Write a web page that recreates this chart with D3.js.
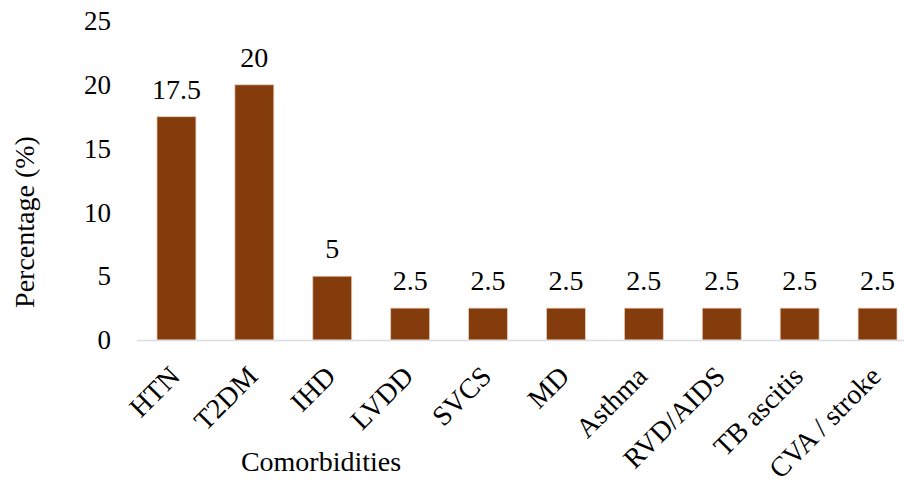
<!DOCTYPE html>
<html>
<head>
<meta charset="utf-8">
<script src="https://cdn.jsdelivr.net/npm/d3@7"></script>
<style>
  html, body { margin: 0; padding: 0; background: #fff; }
  svg { display: block; }
  text { font-family: "Liberation Serif", "Times New Roman", serif; fill: #000; }
</style>
</head>
<body>
<svg id="chart" width="904" height="485"></svg>
<script>
// Comorbidity frequencies (%)
const categories = ["HTN", "T2DM", "IHD", "LVDD", "SVCS", "MD", "Asthma", "RVD/AIDS", "TB ascitis", "CVA / stroke"];
const values = [17.5, 20, 5, 2.5, 2.5, 2.5, 2.5, 2.5, 2.5, 2.5];
const yTicks = [0, 5, 10, 15, 20, 25];

const FONT = "Liberation Serif, Times New Roman, serif";
const svg = d3.select("#chart");
const barColor = "#843C0C";

const x = d3.scaleBand()
  .domain(categories)
  .range([137.5, 916.5])
  .paddingInner(0.5)
  .paddingOuter(0.25);

const y = d3.scaleLinear()
  .domain([0, 25])
  .range([340, 21]);

// Y axis labels (no axis line or ticks)
const yAxis = svg.append("g")
  .attr("transform", "translate(111,0)")
  .call(d3.axisLeft(y).tickValues(yTicks).tickSize(0).tickPadding(0));
yAxis.attr("font-family", FONT);
yAxis.select(".domain").remove();
yAxis.selectAll("text")
  .attr("font-size", 27)
  .attr("font-family", FONT)
  .attr("fill", "#000");

// Bars
svg.append("g")
  .selectAll("rect")
  .data(values)
  .join("rect")
  .attr("x", (d, i) => x(categories[i]))
  .attr("y", d => y(d))
  .attr("width", x.bandwidth())
  .attr("height", d => y(0) - y(d))
  .attr("fill", barColor)
  .attr("stroke", "#e6cdb8")
  .attr("stroke-width", 0.8);

// Baseline
svg.append("line")
  .attr("x1", 137).attr("x2", 904)
  .attr("y1", y(0) + 0.5).attr("y2", y(0) + 0.5)
  .attr("stroke", "#d9dde3")
  .attr("stroke-width", 1.5);

// Value labels
svg.append("g")
  .selectAll("text")
  .data(values)
  .join("text")
  .attr("x", (d, i) => x(categories[i]) + x.bandwidth() / 2)
  .attr("y", d => y(d) - 18)
  .attr("text-anchor", "middle")
  .attr("font-size", 28)
  .attr("font-family", FONT)
  .text(d => d);

// Category labels, rotated 45°
svg.append("g")
  .selectAll("text")
  .data(categories)
  .join("text")
  .attr("transform", d => `translate(${x(d) + x.bandwidth() / 2 + 5},${y(0) + 38}) rotate(-45)`)
  .attr("text-anchor", "end")
  .attr("font-size", 28)
  .attr("font-family", FONT)
  .text(d => d);

// Axis titles
svg.append("text")
  .attr("x", 321)
  .attr("y", 471)
  .attr("text-anchor", "middle")
  .attr("font-size", 28)
  .attr("font-family", FONT)
  .text("Comorbidities");

svg.append("text")
  .attr("transform", "translate(34,222) rotate(-90)")
  .attr("text-anchor", "middle")
  .attr("font-size", 28)
  .attr("font-family", FONT)
  .text("Percentage (%)");
</script>
</body>
</html>
